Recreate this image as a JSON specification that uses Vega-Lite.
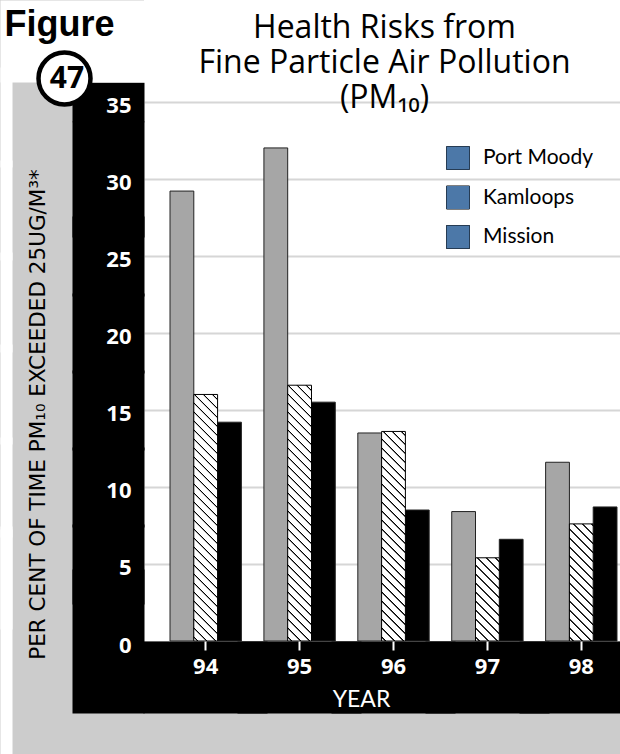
{
  "$schema": "https://vega.github.io/schema/vega-lite/v6.json",
  "width": 499,
  "height": 641,
  "autosize": {"type": "none"},
  "padding": {"left": 144, "top": 0, "right": 0, "bottom": 113},
  "background": "#cccccc",
  "view": {"fill": "#ffffff", "stroke": null},
  "params": [
    {"name": "hs", "value": [
      {"offset": 0, "color": "#fff"},
      {"offset": 0.0058, "color": "#fff"}, {"offset": 0.0072, "color": "#000"}, {"offset": 0.0088, "color": "#000"}, {"offset": 0.0102, "color": "#fff"},
      {"offset": 0.0238, "color": "#fff"}, {"offset": 0.0252, "color": "#000"}, {"offset": 0.0268, "color": "#000"}, {"offset": 0.0282, "color": "#fff"},
      {"offset": 0.0418, "color": "#fff"}, {"offset": 0.0432, "color": "#000"}, {"offset": 0.0448, "color": "#000"}, {"offset": 0.0462, "color": "#fff"},
      {"offset": 0.0598, "color": "#fff"}, {"offset": 0.0612, "color": "#000"}, {"offset": 0.0628, "color": "#000"}, {"offset": 0.0642, "color": "#fff"},
      {"offset": 0.0778, "color": "#fff"}, {"offset": 0.0792, "color": "#000"}, {"offset": 0.0808, "color": "#000"}, {"offset": 0.0822, "color": "#fff"},
      {"offset": 0.0958, "color": "#fff"}, {"offset": 0.0972, "color": "#000"}, {"offset": 0.0988, "color": "#000"}, {"offset": 0.1002, "color": "#fff"},
      {"offset": 0.1138, "color": "#fff"}, {"offset": 0.1152, "color": "#000"}, {"offset": 0.1168, "color": "#000"}, {"offset": 0.1182, "color": "#fff"},
      {"offset": 0.1318, "color": "#fff"}, {"offset": 0.1332, "color": "#000"}, {"offset": 0.1348, "color": "#000"}, {"offset": 0.1362, "color": "#fff"},
      {"offset": 0.1498, "color": "#fff"}, {"offset": 0.1512, "color": "#000"}, {"offset": 0.1528, "color": "#000"}, {"offset": 0.1542, "color": "#fff"},
      {"offset": 0.1678, "color": "#fff"}, {"offset": 0.1692, "color": "#000"}, {"offset": 0.1708, "color": "#000"}, {"offset": 0.1722, "color": "#fff"},
      {"offset": 0.1858, "color": "#fff"}, {"offset": 0.1872, "color": "#000"}, {"offset": 0.1888, "color": "#000"}, {"offset": 0.1902, "color": "#fff"},
      {"offset": 0.2038, "color": "#fff"}, {"offset": 0.2052, "color": "#000"}, {"offset": 0.2068, "color": "#000"}, {"offset": 0.2082, "color": "#fff"},
      {"offset": 0.2218, "color": "#fff"}, {"offset": 0.2232, "color": "#000"}, {"offset": 0.2248, "color": "#000"}, {"offset": 0.2262, "color": "#fff"},
      {"offset": 0.2398, "color": "#fff"}, {"offset": 0.2412, "color": "#000"}, {"offset": 0.2428, "color": "#000"}, {"offset": 0.2442, "color": "#fff"},
      {"offset": 0.2578, "color": "#fff"}, {"offset": 0.2592, "color": "#000"}, {"offset": 0.2608, "color": "#000"}, {"offset": 0.2622, "color": "#fff"},
      {"offset": 0.2758, "color": "#fff"}, {"offset": 0.2772, "color": "#000"}, {"offset": 0.2788, "color": "#000"}, {"offset": 0.2802, "color": "#fff"},
      {"offset": 0.2938, "color": "#fff"}, {"offset": 0.2952, "color": "#000"}, {"offset": 0.2968, "color": "#000"}, {"offset": 0.2982, "color": "#fff"},
      {"offset": 0.3118, "color": "#fff"}, {"offset": 0.3132, "color": "#000"}, {"offset": 0.3148, "color": "#000"}, {"offset": 0.3162, "color": "#fff"},
      {"offset": 0.3298, "color": "#fff"}, {"offset": 0.3312, "color": "#000"}, {"offset": 0.3328, "color": "#000"}, {"offset": 0.3342, "color": "#fff"},
      {"offset": 0.3478, "color": "#fff"}, {"offset": 0.3492, "color": "#000"}, {"offset": 0.3508, "color": "#000"}, {"offset": 0.3522, "color": "#fff"},
      {"offset": 0.3658, "color": "#fff"}, {"offset": 0.3672, "color": "#000"}, {"offset": 0.3688, "color": "#000"}, {"offset": 0.3702, "color": "#fff"},
      {"offset": 0.3838, "color": "#fff"}, {"offset": 0.3852, "color": "#000"}, {"offset": 0.3868, "color": "#000"}, {"offset": 0.3882, "color": "#fff"},
      {"offset": 0.4018, "color": "#fff"}, {"offset": 0.4032, "color": "#000"}, {"offset": 0.4048, "color": "#000"}, {"offset": 0.4062, "color": "#fff"},
      {"offset": 0.4198, "color": "#fff"}, {"offset": 0.4212, "color": "#000"}, {"offset": 0.4228, "color": "#000"}, {"offset": 0.4242, "color": "#fff"},
      {"offset": 0.4378, "color": "#fff"}, {"offset": 0.4392, "color": "#000"}, {"offset": 0.4408, "color": "#000"}, {"offset": 0.4422, "color": "#fff"},
      {"offset": 0.4558, "color": "#fff"}, {"offset": 0.4572, "color": "#000"}, {"offset": 0.4588, "color": "#000"}, {"offset": 0.4602, "color": "#fff"},
      {"offset": 0.4738, "color": "#fff"}, {"offset": 0.4752, "color": "#000"}, {"offset": 0.4768, "color": "#000"}, {"offset": 0.4782, "color": "#fff"},
      {"offset": 0.4918, "color": "#fff"}, {"offset": 0.4932, "color": "#000"}, {"offset": 0.4948, "color": "#000"}, {"offset": 0.4962, "color": "#fff"},
      {"offset": 0.5098, "color": "#fff"}, {"offset": 0.5112, "color": "#000"}, {"offset": 0.5128, "color": "#000"}, {"offset": 0.5142, "color": "#fff"},
      {"offset": 0.5278, "color": "#fff"}, {"offset": 0.5292, "color": "#000"}, {"offset": 0.5308, "color": "#000"}, {"offset": 0.5322, "color": "#fff"},
      {"offset": 0.5458, "color": "#fff"}, {"offset": 0.5472, "color": "#000"}, {"offset": 0.5488, "color": "#000"}, {"offset": 0.5502, "color": "#fff"},
      {"offset": 0.5638, "color": "#fff"}, {"offset": 0.5652, "color": "#000"}, {"offset": 0.5668, "color": "#000"}, {"offset": 0.5682, "color": "#fff"},
      {"offset": 1, "color": "#fff"}
    ]}
  ],
  "data": {"values": [
    {"year": "94", "series": "Kamloops", "value": 29.2},
    {"year": "94", "series": "Port Moody", "value": 16.0},
    {"year": "94", "series": "Mission", "value": 14.2},
    {"year": "95", "series": "Kamloops", "value": 32.0},
    {"year": "95", "series": "Port Moody", "value": 16.6},
    {"year": "95", "series": "Mission", "value": 15.5},
    {"year": "96", "series": "Kamloops", "value": 13.5},
    {"year": "96", "series": "Port Moody", "value": 13.6},
    {"year": "96", "series": "Mission", "value": 8.5},
    {"year": "97", "series": "Kamloops", "value": 8.4},
    {"year": "97", "series": "Port Moody", "value": 5.4},
    {"year": "97", "series": "Mission", "value": 6.6},
    {"year": "98", "series": "Kamloops", "value": 11.6},
    {"year": "98", "series": "Port Moody", "value": 7.6},
    {"year": "98", "series": "Mission", "value": 8.7}
  ]},
  "layer": [
    {
      "transform": [{"filter": "datum.series !== 'Port Moody'"}],
      "mark": {"type": "bar", "stroke": "#222222", "strokeWidth": 1},
      "encoding": {
        "x": {
          "field": "year", "type": "nominal",
          "scale": {"paddingInner": 0.24, "paddingOuter": 0.277},
          "axis": {
            "orient": "bottom", "offset": 0,
            "domain": false,
            "ticks": true, "tickColor": "#000000", "tickWidth": 124, "tickSize": 72, "tickCap": "butt",
            "labelAngle": 0, "labelColor": "#ffffff", "labelFont": "Open Sans", "labelFontWeight": "bold", "labelFontSize": 22,
            "labelBaseline": "top", "labelPadding": -57,
            "grid": false,
            "title": "YEAR", "titleColor": "#ffffff", "titleFont": "Lato", "titleFontSize": 23, "titleFontWeight": "normal",
            "titleX": 217, "titleY": 65, "titleAlign": "center", "titleBaseline": "alphabetic", "titleAngle": 0,
            "zindex": 0
          }
        },
        "xOffset": {"field": "series", "type": "nominal", "scale": {"domain": ["Kamloops", "Port Moody", "Mission"], "paddingInner": 0, "paddingOuter": 0}},
        "y": {
          "field": "value", "type": "quantitative",
          "scale": {"domain": [0, 41.6], "nice": false},
          "axis": {
            "orient": "left", "offset": 0, "values": [0, 5, 10, 15, 20, 25, 30, 35],
            "domain": false,
            "ticks": true, "tickSize": 72, "tickCap": "butt", "tickColor": "#000000",
            "tickWidth": {"condition": [
              {"test": "datum.value === 0", "value": 144},
              {"test": "datum.value === 35", "value": 39.4},
              {"test": "datum.value === 30", "value": 116}
            ], "value": 80},
            "labelColor": "#ffffff", "labelFont": "Open Sans", "labelFontWeight": "bold", "labelFontSize": 22,
            "labelPadding": -59, "labelOffset": 4,
            "grid": true, "gridWidth": 2,
            "gridColor": {"condition": {"test": "datum.value === 0", "value": "transparent"}, "value": "#d6d6d6"},
            "title": "PER CENT OF TIME PM₁₀ EXCEEDED 25UG/M³*", "titleColor": "#000000", "titleFont": "DejaVu Sans",
            "titleFontSize": 21.5, "titleFontWeight": "normal",
            "titleX": -106, "titleY": 414, "titleAngle": 270, "titleAlign": "center", "titleBaseline": "middle",
            "zindex": 0
          }
        },
        "fill": {
          "field": "series", "type": "nominal",
          "scale": {"domain": ["Port Moody", "Kamloops", "Mission"], "range": ["#ffffff", "#a6a6a6", "#000000"]},
          "legend": {
            "orient": "none", "legendX": 302, "legendY": 146, "title": null, "direction": "vertical",
            "symbolType": "square", "symbolSize": 529, "symbolStrokeColor": "#000000", "symbolStrokeWidth": 1, "symbolOpacity": 1,
            "labelFont": "Lato", "labelFontSize": 21, "labelColor": "#000000", "labelOffset": 13,
            "rowPadding": 11.5, "padding": 0
          }
        }
      }
    },
    {
      "transform": [{"filter": "datum.series === 'Port Moody'"}],
      "mark": {"type": "bar", "stroke": "#000000", "strokeWidth": 1},
      "encoding": {
        "x": {
          "field": "year", "type": "nominal",
          "axis": {
            "orient": "bottom", "offset": 0,
            "domain": false, "labels": false, "grid": false,
            "ticks": true, "tickColor": "#ffffff", "tickWidth": 2, "tickSize": 9, "tickCap": "butt",
            "title": ["Health Risks from", "Fine Particle Air Pollution", "(PM₁₀)"],
            "titleColor": "#000000", "titleFont": "Open Sans", "titleFontSize": 32, "titleFontWeight": "normal",
            "titleLineHeight": 35, "titleX": 240, "titleY": -604, "titleAlign": "center", "titleBaseline": "alphabetic", "titleAngle": 0,
            "zindex": 1
          }
        },
        "xOffset": {"field": "series", "type": "nominal"},
        "y": {
          "field": "value", "type": "quantitative",
          "axis": {
            "orient": "right", "offset": -643, "values": [0, 4, 10, 16, 22, 28, 34, 38.94],
            "domain": false, "labels": false, "grid": false,
            "ticks": true, "tickColor": "#ffffff", "tickCap": "butt",
            "tickSize": {"condition": {"test": "datum.value > 38", "value": 144}, "value": 12},
            "tickWidth": {"condition": [
              {"test": "datum.value > 38", "value": 82},
              {"test": "datum.value === 0", "value": 230}
            ], "value": 100},
            "title": "Figure", "titleColor": "#000000", "titleFont": "Liberation Sans", "titleFontSize": 36, "titleFontWeight": "bold",
            "titleAngle": 0, "titleX": 4, "titleY": 35, "titleAlign": "left", "titleBaseline": "alphabetic",
            "zindex": 0
          }
        },
        "fill": {
          "condition": [
            {"test": "datum.year === '94'", "value": {"expr": "{gradient: 'linear', x1: 0, y1: 1, x2: 0.19411, y2: -1.01048, stops: hs}"}},
            {"test": "datum.year === '95'", "value": {"expr": "{gradient: 'linear', x1: 0, y1: 1, x2: 0.18051, y2: -0.93937, stops: hs}"}},
            {"test": "datum.year === '96'", "value": {"expr": "{gradient: 'linear', x1: 0, y1: 1, x2: 0.26782, y2: -1.35734, stops: hs}"}},
            {"test": "datum.year === '97'", "value": {"expr": "{gradient: 'linear', x1: 0, y1: 1, x2: 1.58851, y2: -4.55543, stops: hs}"}},
            {"test": "datum.year === '98'", "value": {"expr": "{gradient: 'linear', x1: 0, y1: 1, x2: 0.83444, y2: -3.10378, stops: hs}"}}
          ],
          "value": "#ffffff"
        }
      }
    },
    {
      "mark": {"type": "point", "filled": true, "opacity": 0},
      "encoding": {
        "shape": {
          "field": "series", "type": "nominal",
          "scale": {
            "domain": ["Port Moody", "Kamloops", "Mission"],
            "range": ["M-1,-1H1V1H-1Z M-1,-1L1,1 M-0.22,-1L1,0.22 M0.57,-1L1,-0.57 M-1,-0.22L0.22,1 M-1,0.57L-0.57,1", "square", "square"]
          },
          "legend": {
            "orient": "none", "legendX": 302, "legendY": 146, "title": null, "direction": "vertical",
            "symbolSize": 529, "symbolFillColor": "transparent", "symbolStrokeColor": "#000000", "symbolStrokeWidth": 1, "symbolOpacity": 1,
            "labelFont": "Lato", "labelFontSize": 21, "labelColor": "#000000", "labelOffset": 13, "labelExpr": "''",
            "rowPadding": 11.5, "padding": 0
          }
        }
      }
    },
    {
      "data": {"values": [{"lbl": "47"}]},
      "mark": {"type": "point", "filled": true, "fill": "#ffffff", "stroke": "#000000", "strokeWidth": 4.5, "opacity": 0},
      "encoding": {
        "shape": {
          "field": "lbl", "type": "nominal",
          "scale": {"range": ["circle"]},
          "legend": {
            "orient": "none", "legendX": -108, "legendY": 50, "title": null, "padding": 0,
            "symbolSize": 2704, "symbolStrokeWidth": 4.5, "symbolOpacity": 1,
            "labelFont": "Open Sans", "labelFontWeight": "bold", "labelFontSize": 30, "labelColor": "#000000",
            "labelAlign": "center", "labelOffset": -26
          }
        }
      }
    }
  ],
  "resolve": {"scale": {"shape": "independent"}, "axis": {"x": "independent", "y": "independent"}}
}
